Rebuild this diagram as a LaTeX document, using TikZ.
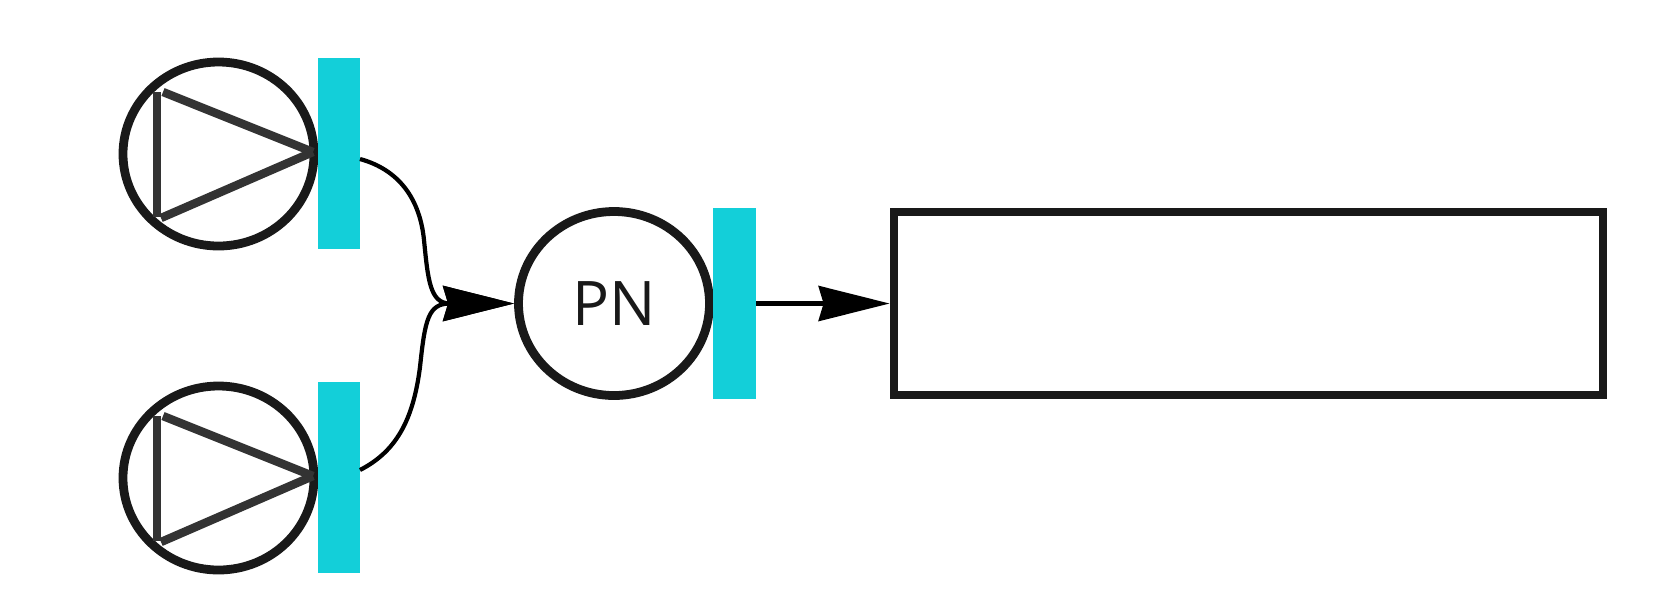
\documentclass[tikz,border=0pt]{standalone}
\usepackage{fontspec}
\setsansfont{Open Sans}
\usetikzlibrary{arrows.meta,shapes.geometric}
\definecolor{barcyan}{HTML}{13CFD9}
\tikzset{
  ringnode/.style={draw=black!90,line width=2.5pt,ellipse,minimum width=1.91cm,minimum height=1.84cm,inner sep=0pt},
  barnode/.style={fill=barcyan,minimum width=.42cm,minimum height=1.91cm,inner sep=0pt,outer sep=0pt},
  triline/.style={draw=black!80,line width=2.4pt},
  flowline/.style={draw=black,line width=1.2pt,-{Stealth[length=.71cm,width=.35cm,inset=.05cm]}},
}
\begin{document}
\begin{tikzpicture}
      \useasboundingbox (0, 0) rectangle (16.6, 6.02);

      \node[ringnode] (pumpa) at (2.185, 4.48){};
      \draw[triline] (1.57, 5.10) to (1.57, 3.85);
      \draw[triline] (1.63, 5.10) to (3.13, 4.50);
      \draw[triline] (1.61, 3.84) to (3.13, 4.50);
      \node[barnode] (bara) at (3.39, 4.485){};

      \node[ringnode] (pumpb) at (2.185, 1.24){};
      \draw[triline] (1.57, 1.86) to (1.57, 0.61);
      \draw[triline] (1.63, 1.86) to (3.13, 1.26);
      \draw[triline] (1.61, 0.60) to (3.13, 1.26);
      \node[barnode] (barb) at (3.39, 1.245){};

      \node[ringnode,font=\fontsize{17.5}{20}\sffamily,text=black!90] (pn) at (6.14, 2.985){PN};
      \node[barnode,minimum width=.43cm] (barc) at (7.345, 2.985){};
      \node[draw=black!90,line width=2.5pt,minimum width=7.09cm,minimum height=1.83cm,inner sep=0pt] (box) at (12.485, 2.985){};

      \draw[flowline] ([yshift=-.055cm]bara.east) .. controls (4.0, 4.32) and (4.20, 4.02) .. (4.24, 3.62) .. controls (4.28, 3.22) and (4.30, 2.985) .. (4.50, 2.985) -- (pn);
      \draw[flowline] ([yshift=.075cm]barb.east) .. controls (3.95, 1.50) and (4.13, 1.80) .. (4.20, 2.35) .. controls (4.25, 2.82) and (4.28, 2.985) .. (4.50, 2.985) -- (pn);
      \draw[flowline] (barc) -- (box);
    \end{tikzpicture}
\end{document}
